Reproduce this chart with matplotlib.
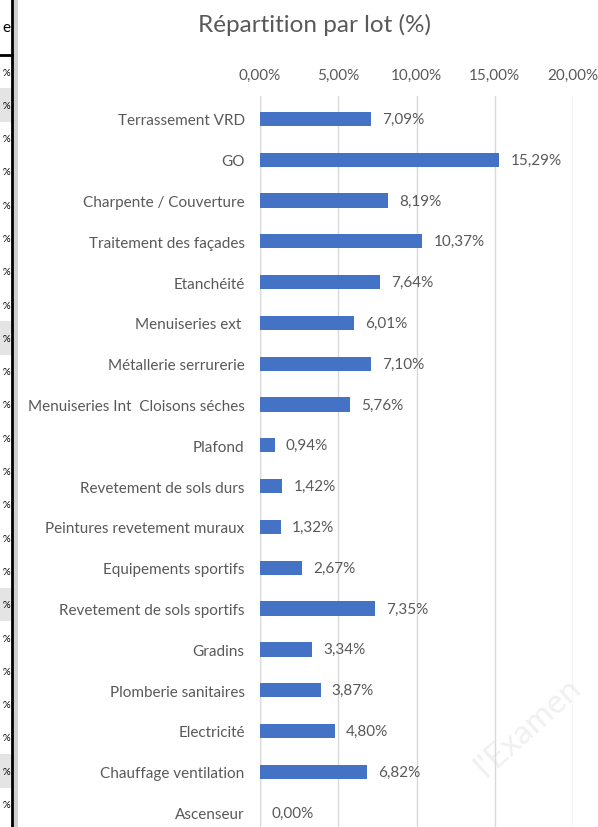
import matplotlib.pyplot as plt
from matplotlib.patches import Rectangle

# data
lots = ["Terrassement VRD", "GO", "Charpente / Couverture", "Traitement des façades",
        "Etanchéité", "Menuiseries ext ", "Métallerie serrurerie",
        "Menuiseries Int  Cloisons séches", "Plafond", "Revetement de sols durs",
        "Peintures revetement muraux", "Equipements sportifs",
        "Revetement de sols sportifs", "Gradins", "Plomberie sanitaires",
        "Electricité", "Chauffage ventilation", "Ascenseur"]
parts = [7.09, 15.29, 8.19, 10.37, 7.64, 6.01, 7.10, 5.76, 0.94, 1.42,
         1.32, 2.67, 7.35, 3.34, 3.87, 4.80, 6.82, 0.00]
xticks = [0, 5, 10, 15, 20]

W, H = 598, 828
plt.rcParams['font.family'] = ['Lato', 'DejaVu Sans']
txt = '#595959'
blue = '#4472C4'
fs = 11

fig = plt.figure(figsize=(W / 100, H / 100), dpi=100)

# cropped table edge on the left
side = fig.add_axes([0, 0, 1, 1], zorder=0)
side.set_xlim(0, W)
side.set_ylim(H, 0)
side.axis('off')
grey_rows = [1, 8, 16, 21]
for r in range(23):
    y0 = 56 + r * 33.3
    if r in grey_rows:
        side.add_patch(Rectangle((0, y0), 11, 33.3, color='#e4e4e4', lw=0))
    side.text(6, y0 + 17, '%', ha='center', va='center', fontsize=7,
              color='black')
side.add_patch(Rectangle((12, 0), 6, H, color='#d0d0d0', lw=0))
side.plot([12, 12], [0, H], color='black', lw=2)
side.plot([0, 12], [56, 56], color='black', lw=2)
side.text(6, 28, 'e', ha='center', va='center', fontsize=11, color='black')
side.text(528, 728, "l'Examen", rotation=42, ha='center', va='center',
          fontsize=24, color='#f0f0f0')

# chart
top = 97
y_last = (H - 120) / 40.8
ax = fig.add_axes([260 / W, 0, (573 - 260) / W, (H - top) / H], zorder=1)
ax.patch.set_alpha(0)
pos = list(range(len(lots)))
ax.barh(pos, parts, height=0.35, color=blue, zorder=3)
ax.set_xlim(0, 20)
ax.set_ylim(y_last, -0.56)
ax.xaxis.tick_top()
ax.set_xticks(xticks)
ax.set_xticklabels([f"{t:.2f}".replace('.', ',') + '%' for t in xticks],
                   fontsize=fs, color=txt)
ax.tick_params(axis='x', length=0, pad=10)
ax.set_yticks(pos)
ax.set_yticklabels(lots, fontsize=fs, color=txt)
ax.tick_params(axis='y', length=0, pad=11)
ax.grid(axis='x', color='#d9d9d9', lw=1, zorder=0)
for s in ax.spines.values():
    s.set_visible(False)
ax.axvline(0, color='#d9d9d9', lw=1, zorder=1)
for p, v in zip(pos, parts):
    ax.annotate(f"{v:.2f}".replace('.', ',') + '%', (v, p), xytext=(8, 0),
                textcoords='offset points', va='center', ha='left',
                fontsize=fs, color=txt)

fig.text(315 / W, 1 - 25 / H, 'Répartition par lot (%)', ha='center',
         va='center', fontsize=17.5, color=txt)

fig.savefig('out.png', dpi=100)
